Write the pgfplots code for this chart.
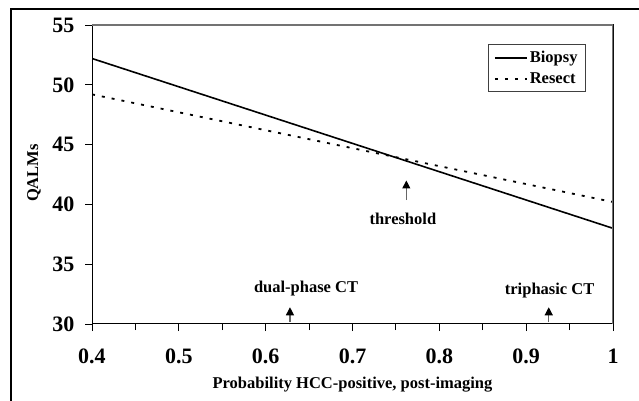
\documentclass[border=0pt]{standalone}
\usepackage{fontspec}
\setmainfont{Liberation Serif}
\usepackage{pgfplots}
\pgfplotsset{compat=1.18}
\usetikzlibrary{arrows.meta}
\begin{document}
\begin{tikzpicture}[x=1pt,y=1pt]
  \useasboundingbox (-92,-77) rectangle (547,324);
  % frame around the figure (top and left only)
  \draw[line width=1.3pt] (-81,-80) -- (-81,315) -- (550,315);
  \begin{axis}[
    scale only axis,
    width=521pt, height=299pt,
    xmin=0.4, xmax=1,
    ymin=30, ymax=55,
    xtick={0.4,0.5,0.6,0.7,0.8,0.9,1},
    xticklabels={0.4,0.5,0.6,0.7,0.8,0.9,1},
    minor xtick={0.45,0.55,0.65,0.75,0.85,0.95},
    ytick={30,35,40,45,50,55},
    xtick pos=bottom, ytick pos=left,
    tick align=outside,
    major tick length=7pt, minor tick length=6pt,
    tick style={black, line width=0.9pt},
    axis line style={line width=1pt},
    /pgf/number format/assume math mode=true,
    ticklabel style={font=\bfseries\fontsize{22}{24}\selectfont},
    xticklabel style={yshift=-14pt},
    yticklabel style={xshift=-7pt},
    xlabel={Probability HCC-positive, post-imaging},
    ylabel={QALMs},
    label style={font=\bfseries\fontsize{16.5}{18}\selectfont},
    xlabel style={at={(axis description cs:0.5,0)}, anchor=base, yshift=-64pt},
    ylabel style={at={(axis description cs:0,0.505)}, anchor=center, yshift=58pt},
    legend style={at={(0.948,0.936)}, anchor=north east,
      draw=black!75, line width=0.8pt,
      font=\bfseries\fontsize{16.5}{18}\selectfont,
      row sep=4pt, inner xsep=6pt, inner ysep=5pt},
    legend cell align=left,
    legend image code/.code={\draw[#1] (0pt,0pt) -- (32pt,0pt);},
  ]
    \addplot[black, line width=1.6pt] coordinates {(0.4,52.2) (1,38.0)};
    \addlegendentry{Biopsy}
    \addplot[black, line width=1.8pt, dash pattern=on 3pt off 7pt] coordinates {(0.4,49.2) (1,40.2)};
    \addlegendentry{Resect}

    % gray top and right borders
    \draw[black!55, line width=1.2pt] (rel axis cs:0,1) -- (rel axis cs:1,1) -- (rel axis cs:1,0);

    % annotations
    \draw[black!60, line width=1.1pt, -{Triangle[length=8pt,width=8pt,black]}]
      (axis cs:0.628,30.15) -- (axis cs:0.628,31.4);
    \draw[black!60, line width=1.1pt, -{Triangle[length=8pt,width=8pt,black]}]
      (axis cs:0.926,30.15) -- (axis cs:0.926,31.4);
    \draw[black!60, line width=1.1pt, -{Triangle[length=8pt,width=8pt,black]}]
      (axis cs:0.762,40.35) -- (axis cs:0.762,42.0);
    \node[anchor=base, font=\bfseries\fontsize{16.5}{18}\selectfont] at (axis cs:0.6465,32.67) {dual-phase CT};
    \node[anchor=base, font=\bfseries\fontsize{16.5}{18}\selectfont] at (axis cs:0.927,32.5) {triphasic CT};
    \node[anchor=base, font=\bfseries\fontsize{16.5}{18}\selectfont] at (axis cs:0.758,38.28) {threshold};
  \end{axis}
\end{tikzpicture}
\end{document}
